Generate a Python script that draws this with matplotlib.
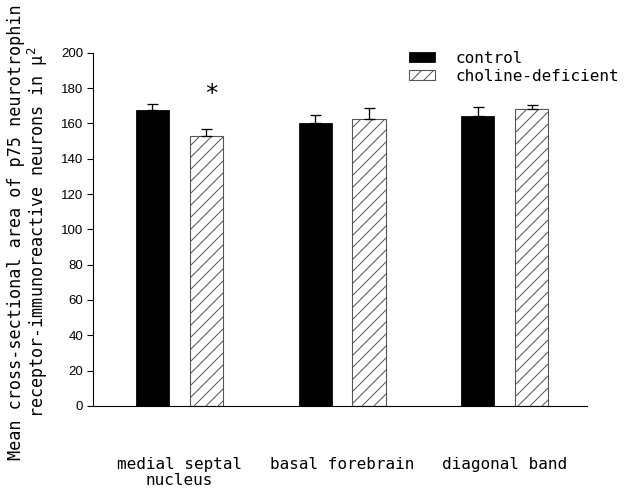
import numpy as np
import matplotlib
matplotlib.use("Agg")
import matplotlib.pyplot as plt

# data
regions = ["medial septal\nnucleus", "basal forebrain", "diagonal band"]
control = [167.7, 160.5, 164.3]
control_err = [3.2, 4.5, 4.9]
choline = [153.1, 162.4, 168.1]
choline_err = [3.8, 6.3, 2.6]
signif = [True, False, False]
yticks = np.arange(0, 201, 20)

# dpi 72 -> one point is one pixel
plt.rcParams["hatch.color"] = "#444444"
plt.rcParams["hatch.linewidth"] = 1.0
mono = "DejaVu Sans Mono"

fig = plt.figure(figsize=(628 / 72, 489 / 72), dpi=72)
ax = fig.add_axes([0.148, 0.17, 0.787, 0.722])

x = np.arange(len(regions))
off = 0.166
w = 0.203
ax.bar(x - off, control, w, color="black", edgecolor="black", linewidth=0.8,
       yerr=[np.zeros(3), control_err], capsize=5.5,
       error_kw=dict(ecolor="black", elinewidth=1.3, capthick=1.3), label="control")
ax.bar(x + off, choline, w, color="white", edgecolor="#555555", linewidth=1.1,
       hatch="//", yerr=[np.zeros(3), choline_err], capsize=5.5,
       error_kw=dict(ecolor="black", elinewidth=1.3, capthick=1.3),
       label="choline-deficient")

for i in range(len(regions)):
    if signif[i]:
        ax.text(x[i] + off + 0.03, choline[i] + choline_err[i] + 20, "*",
                ha="center", va="center", fontsize=24, fontfamily=mono)

ax.set_xlim(-0.532, 2.508)
ax.set_ylim(0, 200)
ax.set_yticks(yticks)
ax.set_yticklabels([str(t) for t in yticks], fontsize=13.2, fontfamily="Liberation Sans")
ax.tick_params(axis="y", direction="out", length=6, width=1.1, pad=4)
ax.set_xticks(x)
ax.set_xticklabels(regions, fontsize=16, fontfamily=mono, linespacing=1.1)
ax.tick_params(axis="x", length=0, pad=51)
ax.spines["top"].set_visible(False)
ax.spines["right"].set_visible(False)
ax.spines["left"].set_linewidth(1.1)
ax.spines["bottom"].set_linewidth(1.1)

fig.text(0.025, 0.525, "Mean cross-sectional area of p75 neurotrophin",
         rotation=90, ha="center", va="center", fontsize=16.8, fontfamily=mono)
fig.text(0.060, 0.525, "receptor-immunoreactive neurons in μ$^2$",
         rotation=90, ha="center", va="center", fontsize=16.8, fontfamily=mono)

ax.legend(loc="upper left", bbox_to_anchor=(0.638, 0.913),
          bbox_transform=fig.transFigure, frameon=False,
          prop=dict(family=mono, size=16), handlelength=1.65,
          handleheight=0.55, handletextpad=1.3, labelspacing=0.2, borderpad=0)

fig.savefig("out.png", dpi=72)
